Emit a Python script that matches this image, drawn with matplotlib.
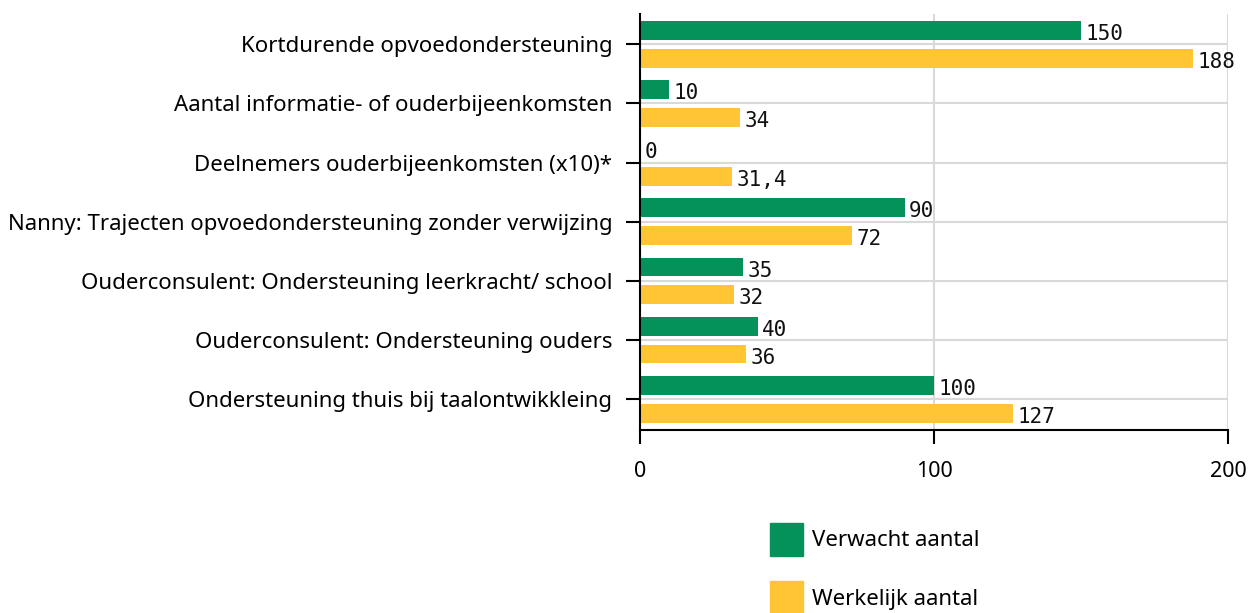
import numpy as np
import matplotlib
matplotlib.use("Agg")
import matplotlib.pyplot as plt
from matplotlib.patches import Patch

categories = [
    "Kortdurende opvoedondersteuning",
    "Aantal informatie- of ouderbijeenkomsten",
    "Deelnemers ouderbijeenkomsten (x10)*",
    "Nanny: Trajecten opvoedondersteuning zonder verwijzing",
    "Ouderconsulent: Ondersteuning leerkracht/ school",
    "Ouderconsulent: Ondersteuning ouders",
    "Ondersteuning thuis bij taalontwikkleing",
]
verwacht = [150, 10, 0, 90, 35, 40, 100]
werkelijk = [188, 34, 31.4, 72, 32, 36, 127]
verwacht_lbl = ["150", "10", "0", "90", "35", "40", "100"]
werkelijk_lbl = ["188", "34", "31,4", "72", "32", "36", "127"]

green = "#05925A"
yellow = "#FFC535"

plt.rcParams["font.family"] = ["Noto Sans", "DejaVu Sans"]

fig = plt.figure(figsize=(12.5, 6.13), dpi=100)
ax = fig.add_axes([0.512, 0.2985, 0.4705, 0.6785])

y = np.arange(len(categories))
h = 0.32
off = 0.235
ax.barh(y - off, verwacht, height=h, color=green, zorder=3)
ax.barh(y + off, werkelijk, height=h, color=yellow, zorder=3)

for i in range(len(categories)):
    ax.text(verwacht[i] + 1.5, y[i] - off + 0.06, verwacht_lbl[i], va="center", ha="left",
            fontsize=15, family="DejaVu Sans Mono", color="#111111")
    ax.text(werkelijk[i] + 1.5, y[i] + off + 0.06, werkelijk_lbl[i], va="center", ha="left",
            fontsize=15, family="DejaVu Sans Mono", color="#111111")

ax.set_xlim(0, 200)
ax.set_ylim(6.52, -0.51)
ax.set_xticks([0, 100, 200])
ax.set_yticks(y)
ax.set_yticklabels(categories, fontsize=16)
ax.tick_params(axis="x", labelsize=15.5, length=10, width=1.5, pad=12)
ax.tick_params(axis="y", length=10, width=1.5, pad=10)

ax.grid(True, color="#d9d9d9", linewidth=1.5, zorder=0)
ax.set_axisbelow(True)
for s in ["top", "right"]:
    ax.spines[s].set_visible(False)
for s in ["left", "bottom"]:
    ax.spines[s].set_linewidth(1.5)
    ax.spines[s].set_zorder(4)

handles = [Patch(color=green, label="Verwacht aantal"),
           Patch(color=yellow, label="Werkelijk aantal")]
fig.legend(handles=handles, loc="upper left", bbox_to_anchor=(0.6, 0.18),
           frameon=False, fontsize=16, handlelength=1.5, handleheight=1.9,
           labelspacing=1.15, handletextpad=0.4)

fig.savefig("out.png", dpi=100)
